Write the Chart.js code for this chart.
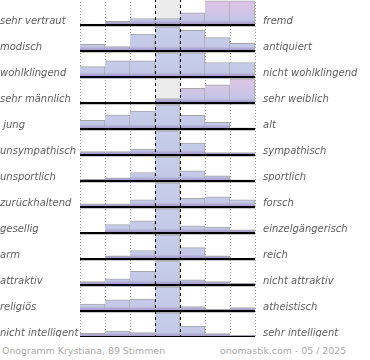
<!DOCTYPE html>
<html>
<head>
<meta charset="utf-8">
<script src="https://cdn.jsdelivr.net/npm/chart.js@4/dist/chart.umd.min.js"></script>
<style>
  html, body { margin: 0; padding: 0; background: #fff; }
  #wrap { position: absolute; left: 0; top: -1px; width: 370px; height: 338px; }
  .foot { position: absolute; top: 345px; font: 9.4px "DejaVu Sans", sans-serif; color: #aaaaaa; white-space: nowrap; }
</style>
</head>
<body>
<div id="wrap"><canvas id="c"></canvas></div>
<div class="foot" style="left:2px">Onogramm Krystiana, 89 Stimmen</div>
<div class="foot" style="left:220px">onomastik.com - 05 / 2025</div>
<script>
// Scale points (7-step semantic differential)
const scalePoints = ["1", "2", "3", "4", "5", "6", "7"];
const leftLabels = ["sehr vertraut", "modisch", "wohlklingend", "sehr männlich", " jung", "unsympathisch", "unsportlich", "zurückhaltend", "gesellig", "arm", "attraktiv", "religiös", "nicht intelligent"];
const rightLabels = ["fremd", "antiquiert", "nicht wohlklingend", "sehr weiblich", "alt", "sympathisch", "sportlich", "forsch", "einzelgängerisch", "reich", "nicht attraktiv", "atheistisch", "sehr intelligent"];
// Relative vote share per scale point (row maximum = 100)
const vertraut     = [4, 15, 27, 27, 50, 100, 100];
const modisch      = [28, 18, 70, 100, 85, 55, 32];
const wohlklingend = [43, 67, 67, 100, 100, 60, 60];
const maennlich    = [2, 0, 0, 18, 61, 75, 100];
const jung         = [36, 58, 74, 100, 57, 28, 5];
const sympathisch  = [14, 14, 24, 100, 49, 10, 10];
const sportlich    = [7, 13, 35, 100, 42, 21, 5];
const forsch       = [13, 13, 30, 100, 36, 42, 30];
const gesellig     = [3, 35, 50, 100, 30, 25, 13];
const reich        = [1, 13, 35, 100, 47, 13, 0];
const attraktiv    = [14, 26, 57, 100, 21, 14, 7];
const religioes    = [29, 46, 49, 100, 18, 7, 14];
const intelligent  = [15, 25, 18, 100, 45, 14, 8];
const rows = [vertraut, modisch, wohlklingend, maennlich, jung, sympathisch, sportlich, forsch, gesellig, reich, attraktiv, religioes, intelligent];

// style
const BAR_SCALE = 0.93;       // fraction of a row a 100% bar fills
const pinkRows = [0, 3];

function rowFill(ctx) {
  const chart = ctx.chart;
  const y = chart.scales && chart.scales.y;
  const r = ctx.datasetIndex;
  if (!y || !isFinite(y.getPixelForValue(r + 1))) return '#c6cdea';
  const top = y.getPixelForValue(r);
  const base = y.getPixelForValue(r + 1);
  const g = chart.ctx.createLinearGradient(0, top, 0, base);
  if (pinkRows.includes(r)) {
    g.addColorStop(0, '#e0c5e6');
    g.addColorStop(0.45, '#d2c5e6');
    g.addColorStop(0.82, '#c3c5e7');
  } else {
    g.addColorStop(0, '#c7ceea');
    g.addColorStop(0.82, '#c3c9e7');
  }
  g.addColorStop(0.9, '#b4abd4');
  g.addColorStop(1, '#9e92c5');
  return g;
}

const datasets = rows.map((vals, r) => ({
  label: leftLabels[r],
  data: vals.map(v => [r + 1 - v / 100 * BAR_SCALE, r + 1]),
  yAxisID: 'y',
  grouped: false,
  barPercentage: 1,
  categoryPercentage: 1,
  backgroundColor: rowFill,
  borderColor: '#a6a6a6',
  borderSkipped: false,
  borderWidth: (ctx) => (vals[ctx.dataIndex] > 0 ? { top: 1, right: 1, left: 0, bottom: 0 } : 0)
}));

const gridPlugin = {
  id: 'grid',
  beforeDatasetsDraw(chart) {
    const { ctx, chartArea, scales: { x } } = chart;
    const half = (x.getPixelForValue(1) - x.getPixelForValue(0)) / 2;
    ctx.save();
    const mx = x.getPixelForValue(3);
    ctx.fillStyle = '#ececec';
    ctx.fillRect(mx - half, chartArea.top, half * 2, chartArea.bottom - chartArea.top);
    ctx.strokeStyle = '#9a9a9a';
    ctx.lineWidth = 1;
    ctx.setLineDash([1, 2]);
    for (let i = 0; i <= scalePoints.length; i++) {
      if (i === 3 || i === 4) continue;
      const px = Math.round(x.getPixelForValue(0) - half + i * half * 2) + 0.5;
      ctx.beginPath();
      ctx.moveTo(px, chartArea.top);
      ctx.lineTo(px, chartArea.bottom);
      ctx.stroke();
    }
    ctx.restore();
  },
  afterDatasetsDraw(chart) {
    const { ctx, chartArea, scales: { x, y } } = chart;
    const half = (x.getPixelForValue(1) - x.getPixelForValue(0)) / 2;
    const left = x.getPixelForValue(0) - half;
    const right = x.getPixelForValue(scalePoints.length - 1) + half;
    ctx.save();
    rows.forEach((_, r) => {
      const py = Math.round(y.getPixelForValue(r + 1));
      ctx.fillStyle = 'rgba(0,0,0,0.22)';
      ctx.fillRect(left, py + 1, right - left, 1);
      ctx.fillStyle = '#000';
      ctx.fillRect(left, py - 1, right - left, 2);
    });
    ctx.strokeStyle = '#000';
    ctx.lineWidth = 1;
    ctx.setLineDash([3, 3]);
    [3, 4].forEach(i => {
      const px = Math.round(left + i * half * 2) + 0.5;
      ctx.beginPath();
      ctx.moveTo(px, chartArea.top);
      ctx.lineTo(px, chartArea.bottom);
      ctx.stroke();
    });
    ctx.restore();
  }
};

const labelFont = { family: '"DejaVu Sans", sans-serif', size: 10, style: 'italic' };
const rowTicks = (scale) => { scale.ticks = rows.map((_, r) => ({ value: r + 1 - 0.14 })); };
const fitWidth = (w) => (s) => { s.width = w; s.paddingTop = 0; s.paddingBottom = 0; };

new Chart(document.getElementById('c'), {
  type: 'bar',
  data: { labels: scalePoints, datasets },
  options: {
    responsive: true,
    maintainAspectRatio: false,
    animation: false,
    layout: { padding: 0 },
    plugins: { legend: { display: false }, tooltip: { enabled: false } },
    scales: {
      x: { display: false, offset: true },
      y: {
        type: 'linear', position: 'left', min: 0, max: rows.length, reverse: true,
        afterBuildTicks: rowTicks,
        afterFit: fitWidth(80),
        grid: { display: false, drawTicks: false },
        border: { display: false },
        ticks: { crossAlign: 'far', padding: 0, color: '#5e5e5e', font: labelFont, autoSkip: false,
          callback: (v, i) => leftLabels[i] }
      },
      y2: {
        type: 'linear', position: 'right', min: 0, max: rows.length, reverse: true,
        afterBuildTicks: rowTicks,
        afterFit: fitWidth(115),
        grid: { display: false, drawTicks: false },
        border: { display: false },
        ticks: { crossAlign: 'near', padding: 8, color: '#5e5e5e', font: labelFont, autoSkip: false,
          callback: (v, i) => rightLabels[i] }
      }
    }
  },
  plugins: [gridPlugin]
});
</script>
</body>
</html>
